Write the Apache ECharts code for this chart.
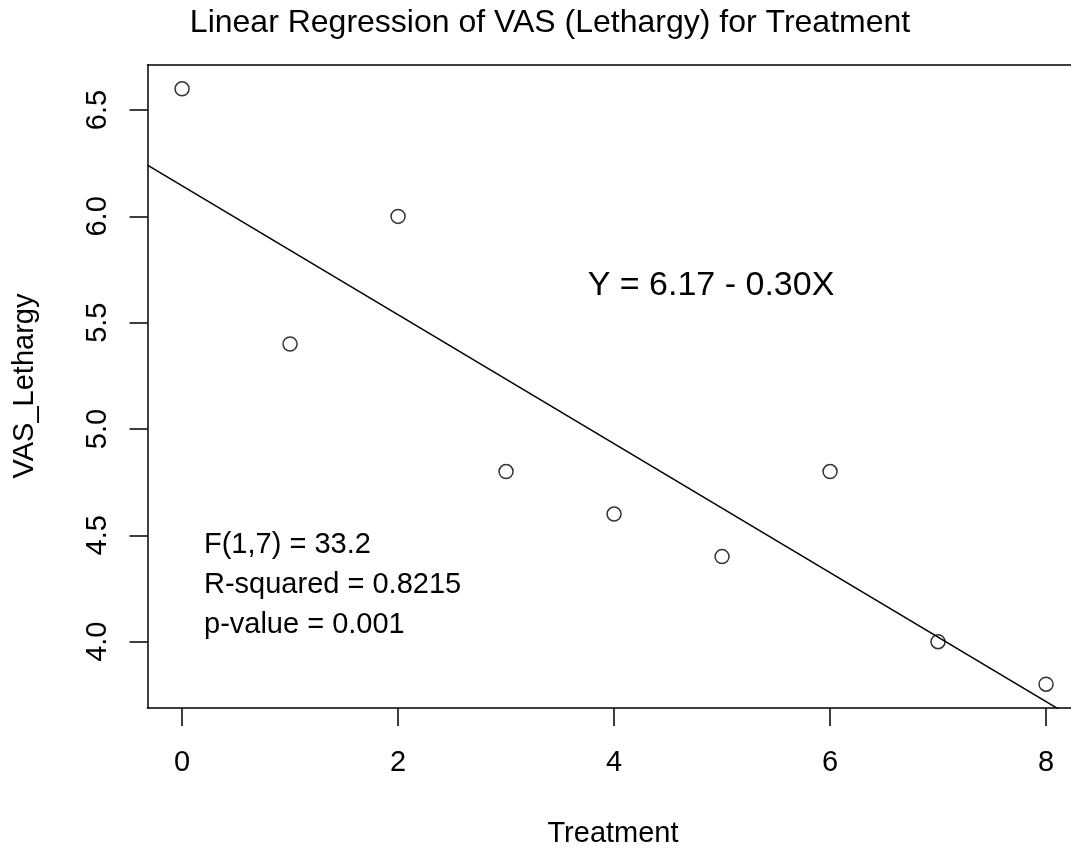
<!DOCTYPE html>
<html>
<head>
<meta charset="utf-8">
<script src="https://cdn.jsdelivr.net/npm/echarts@6/dist/echarts.min.js"></script>
<style>
html,body{margin:0;padding:0;background:#fff;}
#chart{width:1071px;height:848px;}
</style>
</head>
<body>
<div id="chart"></div>
<script>
// Data
var treatment = [0, 1, 2, 3, 4, 5, 6, 7, 8];
var vasLethargy = [6.6, 5.4, 6.0, 4.8, 4.6, 4.4, 4.8, 4.0, 3.8];
// Fitted regression line endpoints (read at the plot region edges)
var fitLineX = [-0.32, 8.231];
var fitLineY = [6.241, 3.648];
// Tick labels
var xTicks = [0, 2, 4, 6, 8];
var yTicks = [4.0, 4.5, 5.0, 5.5, 6.0, 6.5];
// Texts
var titleText = 'Linear Regression of VAS (Lethargy) for Treatment';
var xLabel = 'Treatment';
var yLabel = 'VAS_Lethargy';
var equationText = 'Y = 6.17 - 0.30X';
var statsLines = ['F(1,7) = 33.2', 'R-squared = 0.8215', 'p-value = 0.001'];

var FONT = '"Liberation Sans", Arial, Helvetica, sans-serif';
var chart = echarts.init(document.getElementById('chart'), null, {renderer: 'canvas'});

var pts = treatment.map(function (x, i) { return [x, vasLethargy[i]]; });
var linePts = fitLineX.map(function (x, i) { return [x, fitLineY[i]]; });

var graphics = [
  {type: 'text', x: 550, y: 23, style: {text: titleText, font: '32px ' + FONT, fill: '#000', textAlign: 'center', textVerticalAlign: 'middle'}},
  {type: 'text', x: 613, y: 834, style: {text: xLabel, font: '29px ' + FONT, fill: '#000', textAlign: 'center', textVerticalAlign: 'middle'}},
  {type: 'text', x: 25, y: 386, rotation: Math.PI / 2, style: {text: yLabel, font: '29px ' + FONT, fill: '#000', textAlign: 'center', textVerticalAlign: 'middle'}},
  {type: 'text', x: 711, y: 286, style: {text: equationText, font: '34px ' + FONT, fill: '#000', textAlign: 'center', textVerticalAlign: 'middle'}}
];
statsLines.forEach(function (t, i) {
  graphics.push({type: 'text', x: 204, y: 545 + i * 40, style: {text: t, font: '29px ' + FONT, fill: '#000', textAlign: 'left', textVerticalAlign: 'middle'}});
});

chart.setOption({
  animation: false,
  backgroundColor: '#fff',
  grid: {left: 147.5, top: 65, right: 0, height: 643, show: false},
  xAxis: [{
    type: 'value', min: -0.32, max: 8.231, position: 'bottom',
    splitLine: {show: false},
    axisLine: {show: true, onZero: false, lineStyle: {color: '#000', width: 1.5}},
    axisTick: {show: true, customValues: xTicks, length: 18, lineStyle: {color: '#000', width: 1.5}},
    axisLabel: {show: true, customValues: xTicks, margin: 40, fontSize: 29, fontFamily: FONT, color: '#000'}
  }, {
    type: 'value', min: -0.32, max: 8.231, position: 'top',
    splitLine: {show: false},
    axisLine: {show: true, onZero: false, lineStyle: {color: '#000', width: 1.5}},
    axisTick: {show: false},
    axisLabel: {show: false}
  }],
  yAxis: {
    type: 'value', min: 3.688, max: 6.712,
    splitLine: {show: false},
    axisLine: {show: true, onZero: false, lineStyle: {color: '#000', width: 1.5}},
    axisTick: {show: true, customValues: yTicks, length: 18, lineStyle: {color: '#000', width: 1.5}},
    axisLabel: {show: true, customValues: yTicks, rotate: 90, margin: 35, fontSize: 29, fontFamily: FONT, color: '#000',
      formatter: function (v) { return Number(v).toFixed(1); }}
  },
  series: [
    {type: 'line', data: linePts, symbol: 'none', clip: true, lineStyle: {color: '#000', width: 1.5}, silent: true},
    {type: 'scatter', data: pts, symbol: 'circle', symbolSize: 14, clip: false,
      itemStyle: {color: '#fff', borderColor: '#000', borderWidth: 1.5}}
  ],
  graphic: graphics
});
</script>
</body>
</html>
